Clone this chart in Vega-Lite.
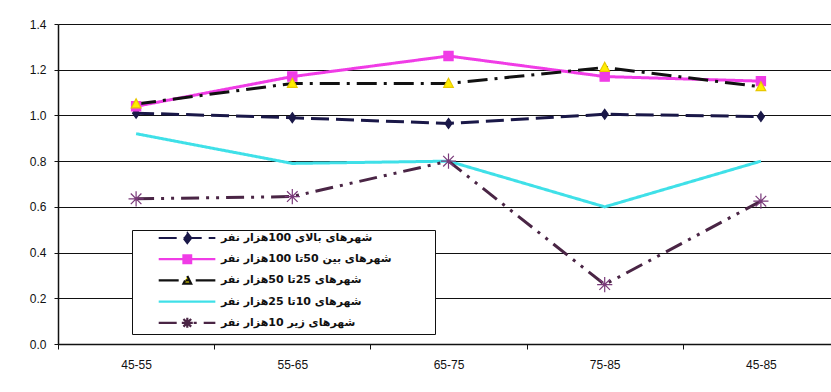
{
  "$schema": "https://vega.github.io/schema/vega-lite/v6.json",
  "width": 773,
  "height": 320,
  "autosize": {"type": "none"},
  "padding": {"left": 58, "top": 24, "right": 0, "bottom": 48},
  "background": "white",
  "config": {
    "view": {"stroke": null},
    "font": "Liberation Sans",
    "axis": {"labelFont": "Liberation Sans", "labelFontSize": 12, "labelColor": "#111", "domainColor": "#111", "tickColor": "#111"},
    "legend": {
      "titleOrient": "right", "titlePadding": 42, "titleFontSize": 11,
      "orient": "none", "legendX": 74, "legendY": 206,
      "padding": 1, "strokeColor": "#111", "fillColor": "white",
      "symbolType": "M3.4,0L13.7,0", "symbolSize": 121, "symbolStrokeWidth": 2.2,
      "labelFont": "DejaVu Sans", "labelFontSize": 11, "labelFontWeight": "bold", "labelColor": "#111",
      "labelLimit": 300, "rowPadding": 1.2, "labelOffset": 74
    }
  },
  "data": {
    "values": [
      {"period": "45-55", "series": "شهرهای بالای 100هزار نفر", "value": 1.01},
      {"period": "55-65", "series": "شهرهای بالای 100هزار نفر", "value": 0.99},
      {"period": "65-75", "series": "شهرهای بالای 100هزار نفر", "value": 0.965},
      {"period": "75-85", "series": "شهرهای بالای 100هزار نفر", "value": 1.005},
      {"period": "45-85", "series": "شهرهای بالای 100هزار نفر", "value": 0.995},
      {"period": "45-55", "series": "شهرهای بین 50تا 100هزار نفر", "value": 1.04},
      {"period": "55-65", "series": "شهرهای بین 50تا 100هزار نفر", "value": 1.17},
      {"period": "65-75", "series": "شهرهای بین 50تا 100هزار نفر", "value": 1.26},
      {"period": "75-85", "series": "شهرهای بین 50تا 100هزار نفر", "value": 1.17},
      {"period": "45-85", "series": "شهرهای بین 50تا 100هزار نفر", "value": 1.15},
      {"period": "45-55", "series": "شهرهای 25تا 50هزار نفر", "value": 1.05},
      {"period": "55-65", "series": "شهرهای 25تا 50هزار نفر", "value": 1.14},
      {"period": "65-75", "series": "شهرهای 25تا 50هزار نفر", "value": 1.14},
      {"period": "75-85", "series": "شهرهای 25تا 50هزار نفر", "value": 1.21},
      {"period": "45-85", "series": "شهرهای 25تا 50هزار نفر", "value": 1.125},
      {"period": "45-55", "series": "شهرهای 10تا 25هزار نفر", "value": 0.92},
      {"period": "55-65", "series": "شهرهای 10تا 25هزار نفر", "value": 0.79},
      {"period": "65-75", "series": "شهرهای 10تا 25هزار نفر", "value": 0.80},
      {"period": "75-85", "series": "شهرهای 10تا 25هزار نفر", "value": 0.60},
      {"period": "45-85", "series": "شهرهای 10تا 25هزار نفر", "value": 0.80},
      {"period": "45-55", "series": "شهرهای زیر 10هزار نفر", "value": 0.635},
      {"period": "55-65", "series": "شهرهای زیر 10هزار نفر", "value": 0.645},
      {"period": "65-75", "series": "شهرهای زیر 10هزار نفر", "value": 0.80},
      {"period": "75-85", "series": "شهرهای زیر 10هزار نفر", "value": 0.26},
      {"period": "45-85", "series": "شهرهای زیر 10هزار نفر", "value": 0.625}
    ]
  },
  "encoding": {
    "x": {
      "field": "period", "type": "nominal", "sort": null,
      "scale": {"type": "band", "range": [0, 781], "paddingInner": 0, "paddingOuter": 0},
      "axis": {"title": null, "labelAngle": 0, "tickBand": "extent", "tickSize": 5, "labelPadding": 10, "grid": false, "domainWidth": 1.5}
    },
    "y": {
      "field": "value", "type": "quantitative",
      "scale": {"domain": [0, 1.4], "nice": false},
      "axis": {"title": null, "values": [0, 0.2, 0.4, 0.6, 0.8, 1.0, 1.2, 1.4], "format": ".1f", "grid": true, "gridColor": "#111", "gridWidth": 1, "gridOpacity": 1, "tickSize": 4, "labelPadding": 8, "domainWidth": 1.5}
    }
  },
  "layer": [
    {
      "mark": {"type": "line", "strokeWidth": 3},
      "encoding": {
        "color": {
          "field": "series", "type": "nominal", "sort": null,
          "scale": {"range": ["#1a1848", "#f03ce6", "#111111", "#3fe0e8", "#4a2545"]},
          "legend": {
            "title": "\u00a0",
            "encode": {
              "symbols": {
                "update": {
                  "shape": {"signal": "['M0,-0.9L0,-0.9M0,0.9L0,0.9M3.4,0L13.7,0M8.6,-0.9L9.3,0L8.6,0.9L7.9,0Z', 'M0,-0.9L0,-0.9M0,0.9L0,0.9M3.4,0L13.7,0M7.9,-0.7L9.3,-0.7L9.3,0.7L7.9,0.7Z', 'M0,-0.9L0,-0.9M0,0.9L0,0.9M3.4,0L13.7,0M8.6,-0.8L9.3,0.6L7.9,0.6Z', 'M0,-0.9L0,-0.9M0,0.9L0,0.9M3.4,0L13.7,0', 'M0,-0.9L0,-0.9M0,0.9L0,0.9M3.4,0L13.7,0M7.6,0L9.6,0M8.6,-0.9L8.6,0.9M7.9,-0.7L9.3,0.7M7.9,0.7L9.3,-0.7'][datum.index]"},
                  "fill": {"signal": "['#1a1848', '#f03ce6', '#ffee00', 'transparent', 'transparent'][datum.index]"}
                }
              }
            }
          }
        },
        "strokeDash": {
          "field": "series", "type": "nominal", "sort": null,
          "scale": {"range": [[18, 7], [1, 0], [20, 7, 3, 7], [1, 0], [18, 7, 3, 7, 3, 7]]},
          "legend": {
            "title": "\u00a0",
            "encode": {
              "symbols": {
                "update": {
                  "shape": {"signal": "['M0,-0.9L0,-0.9M0,0.9L0,0.9M3.4,0L13.7,0M8.6,-0.9L9.3,0L8.6,0.9L7.9,0Z', 'M0,-0.9L0,-0.9M0,0.9L0,0.9M3.4,0L13.7,0M7.9,-0.7L9.3,-0.7L9.3,0.7L7.9,0.7Z', 'M0,-0.9L0,-0.9M0,0.9L0,0.9M3.4,0L13.7,0M8.6,-0.8L9.3,0.6L7.9,0.6Z', 'M0,-0.9L0,-0.9M0,0.9L0,0.9M3.4,0L13.7,0', 'M0,-0.9L0,-0.9M0,0.9L0,0.9M3.4,0L13.7,0M7.6,0L9.6,0M8.6,-0.9L8.6,0.9M7.9,-0.7L9.3,0.7M7.9,0.7L9.3,-0.7'][datum.index]"},
                  "fill": {"signal": "['#1a1848', '#f03ce6', '#ffee00', 'transparent', 'transparent'][datum.index]"}
                }
              }
            }
          }
        }
      }
    },
    {
      "mark": {"type": "point", "filled": false, "strokeWidth": 1.2, "opacity": 1},
      "encoding": {
        "shape": {
          "field": "series", "type": "nominal", "legend": null,
          "scale": {
            "domain": ["شهرهای بالای 100هزار نفر", "شهرهای بین 50تا 100هزار نفر", "شهرهای 25تا 50هزار نفر", "شهرهای 10تا 25هزار نفر", "شهرهای زیر 10هزار نفر"],
            "range": ["M0,-1L0.7,0L0,1L-0.7,0Z", "M-0.8,-0.8L0.8,-0.8L0.8,0.8L-0.8,0.8Z", "M0,-0.8L0.75,0.6L-0.75,0.6Z", "M0,0", "M-1,0L1,0M0,-1L0,1M-0.7,-0.7L0.7,0.7M-0.7,0.7L0.7,-0.7"]
          }
        },
        "fill": {
          "field": "series", "type": "nominal", "legend": null,
          "scale": {
            "domain": ["شهرهای بالای 100هزار نفر", "شهرهای بین 50تا 100هزار نفر", "شهرهای 25تا 50هزار نفر", "شهرهای 10تا 25هزار نفر", "شهرهای زیر 10هزار نفر"],
            "range": ["#1a1848", "#f03ce6", "#ffee00", "transparent", "transparent"]
          }
        },
        "stroke": {
          "field": "series", "type": "nominal", "legend": null,
          "scale": {
            "domain": ["شهرهای بالای 100هزار نفر", "شهرهای بین 50تا 100هزار نفر", "شهرهای 25تا 50هزار نفر", "شهرهای 10تا 25هزار نفر", "شهرهای زیر 10هزار نفر"],
            "range": ["#1a1848", "#f03ce6", "#e8c800", "transparent", "#7a3a7a"]
          }
        },
        "size": {
          "field": "series", "type": "nominal", "legend": null,
          "scale": {
            "domain": ["شهرهای بالای 100هزار نفر", "شهرهای بین 50تا 100هزار نفر", "شهرهای 25تا 50هزار نفر", "شهرهای 10تا 25هزار نفر", "شهرهای زیر 10هزار نفر"],
            "range": [100, 230, 170, 10, 196]
          }
        }
      }
    }
  ]
}
